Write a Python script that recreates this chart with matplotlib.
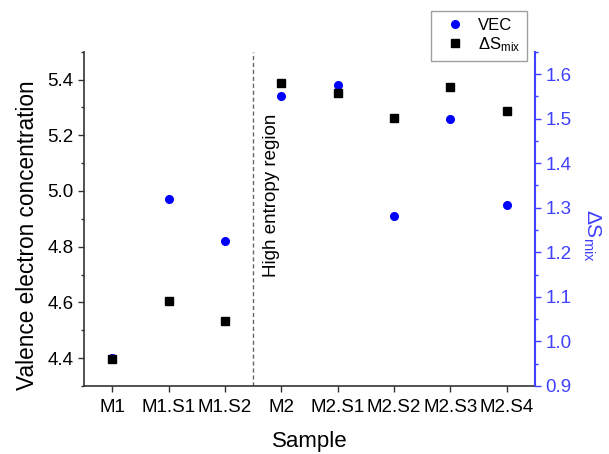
import numpy as np
import matplotlib.pyplot as plt
from matplotlib.ticker import MultipleLocator

plt.rcParams['font.family'] = ['Liberation Sans', 'DejaVu Sans']
plt.rcParams['mathtext.fontset'] = 'custom'
plt.rcParams['mathtext.rm'] = 'Liberation Sans'
plt.rcParams['mathtext.it'] = 'Liberation Sans:italic'

samples = ['M1', 'M1.S1', 'M1.S2', 'M2', 'M2.S1', 'M2.S2', 'M2.S3', 'M2.S4']
vec = [4.40, 4.97, 4.82, 5.34, 5.38, 4.91, 5.26, 4.95]
ds_mix = [0.960, 1.090, 1.046, 1.580, 1.557, 1.501, 1.571, 1.518]

blue = '#0000ff'
axis_blue = '#4040ff'
dark = '#333333'

fig = plt.figure(figsize=(6.09, 4.54), dpi=100)
ax = fig.add_axes([0.138, 0.150, 0.7405, 0.736])
x = np.arange(len(samples))

l1, = ax.plot(x, vec, 'o', color=blue, markersize=5.5, label='VEC')
ax.set_xlim(-0.5, 7.5)
ax.set_ylim(4.3, 5.5)
ax.set_xticks(x)
ax.set_xticklabels(samples)
ax.yaxis.set_major_locator(MultipleLocator(0.2))
ax.yaxis.set_minor_locator(MultipleLocator(0.1))
ax.tick_params(axis='both', which='major', direction='out', length=4.5, width=1,
               labelsize=13.5, color=dark, pad=3)
ax.tick_params(axis='x', which='major', pad=5)
ax.tick_params(axis='y', which='minor', direction='out', length=2.5, width=1, color=dark)
for s in ['top', 'right']:
    ax.spines[s].set_visible(False)
for s in ['left', 'bottom']:
    ax.spines[s].set_color(dark)
    ax.spines[s].set_linewidth(1.2)
ax.set_xlabel('Sample', fontsize=16, labelpad=11)
ax.set_ylabel('Valence electron concentration', fontsize=16.3, labelpad=6)
ax.yaxis.label.set_y(0.45)

# high entropy boundary
ax.axvline(2.5, color='#666666', linestyle=(0, (3, 2)), linewidth=1)
ax.text(2.83, 4.69, 'High entropy region', rotation=90, ha='center', va='bottom',
        fontsize=13.5)

ax2 = ax.twinx()
l2, = ax2.plot(x, ds_mix, 's', color='black', markersize=5.5, label=r'ΔS$_{\rm mix}$')
ax2.set_ylim(0.9, 1.65)
ax2.yaxis.set_major_locator(MultipleLocator(0.1))
ax2.yaxis.set_minor_locator(MultipleLocator(0.05))
ax2.tick_params(axis='y', which='major', direction='out', length=4.5, width=1,
                labelsize=13.5, color=axis_blue, labelcolor=axis_blue, pad=3)
ax2.tick_params(axis='y', which='minor', direction='out', length=2.5, width=1,
                color=axis_blue)
for s in ['top', 'left', 'bottom']:
    ax2.spines[s].set_visible(False)
ax2.spines['right'].set_color(axis_blue)
ax2.spines['right'].set_linewidth(1.5)
ax2.set_ylabel(r'ΔS$_{\rm mix}$', fontsize=15, color=axis_blue, rotation=270,
               labelpad=22)
ax2.yaxis.label.set_y(0.45)

leg = fig.legend([l1, l2], ['VEC', r'ΔS$_{\rm mix}$'], loc='upper right',
                 bbox_to_anchor=(527 / 609, 1 - 11 / 454), borderaxespad=0,
                 fontsize=12, frameon=True, fancybox=False, edgecolor='#888888',
                 handlelength=2.0, handletextpad=0.4, borderpad=0.4,
                 labelspacing=0.15, markerscale=1.0)
leg.get_frame().set_linewidth(1)

fig.savefig('out.png', dpi=100)
